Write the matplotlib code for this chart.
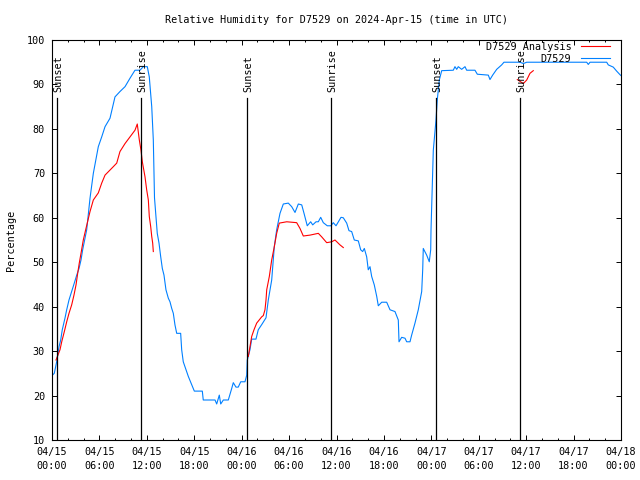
import numpy as np
import matplotlib
matplotlib.use("Agg")
import matplotlib.pyplot as plt
from matplotlib.ticker import MultipleLocator, FixedLocator

# hours since 2024-04-15 00:00 UTC
blue_h = [0.00, 0.29, 0.59, 0.89, 1.10, 1.30, 1.64, 1.86, 2.15, 2.49, 2.82, 3.13, 3.42, 3.67, 3.88,
          4.18, 4.39, 4.81, 5.23, 5.86, 6.29, 6.71, 7.34, 7.97, 8.60, 9.24, 9.87, 10.50, 11.13,
          11.55, 12.06, 12.31, 12.62, 12.82, 12.97, 13.16, 13.32, 13.54, 13.75, 13.96, 14.17,
          14.42, 14.72, 14.93, 15.15, 15.35, 15.56, 15.78, 16.28, 16.41, 16.61, 16.96, 17.25,
          17.68, 18.01, 19.02, 19.14, 20.63, 20.84, 21.17, 21.35, 21.68, 22.31, 22.74, 22.94,
          23.28, 23.57, 23.88, 24.42, 24.64, 24.71, 25.05, 25.27, 25.81, 26.10, 26.55, 27.08,
          27.37, 27.80, 28.13, 28.43, 28.85, 29.27, 29.90, 30.33, 30.75, 31.17, 31.60, 31.89,
          32.30, 32.73, 32.99, 33.41, 33.70, 34.00, 34.33, 34.83, 35.30, 35.59, 35.94, 36.57,
          36.86, 37.29, 37.58, 37.92, 38.25, 38.76, 39.06, 39.31, 39.52, 39.82, 40.02, 40.24,
          40.45, 40.78, 41.09, 41.29, 41.72, 42.35, 42.77, 43.40, 43.82, 43.91, 44.25, 44.67,
          44.88, 45.30, 45.51, 45.93, 46.35, 46.78, 46.91, 46.98, 47.41, 47.74, 47.92, 47.96,
          48.25, 48.59, 48.75, 48.88, 49.01, 49.31, 50.78, 50.99, 51.21, 51.41, 51.84, 52.26,
          52.47, 53.52, 53.82, 55.21, 55.42, 55.76, 56.27, 56.90, 57.19, 59.22, 59.64, 60.07,
          67.66, 67.86, 68.08, 70.19, 70.39, 71.02, 71.45, 71.87, 72.00]
blue_v = [24.5, 25.0, 27.6, 31.0, 32.5, 34.8, 37.4, 39.3, 41.5, 43.4, 45.3, 47.1, 48.6, 50.5, 52.8,
          55.4, 57.3, 64.4, 70.0, 76.0, 78.2, 80.5, 82.4, 87.2, 88.4, 89.5, 91.4, 93.2, 93.2,
          94.0, 94.0, 91.7, 85.0, 77.5, 64.5, 60.3, 56.5, 54.3, 51.3, 48.6, 47.1,
          43.8, 41.9, 41.1, 39.6, 38.5, 35.9, 34.0, 34.0, 30.3, 27.6, 25.8, 24.3,
          22.4, 21.0, 21.0, 19.0, 19.0, 18.1, 20.1, 18.1, 19.0, 19.0, 21.6, 22.9,
          21.9, 21.9, 23.1, 23.1, 24.6, 28.0, 30.3, 32.7, 32.7, 34.8, 36.0, 37.5,
          41.5, 46.0, 53.5, 57.3, 61.0, 63.1, 63.3, 62.5, 61.2, 63.1, 62.9, 61.0,
          58.2, 59.1, 58.4, 59.1, 59.1, 60.1, 58.9, 58.2, 58.2, 58.9, 58.2, 60.1,
          60.0, 58.8, 57.1, 56.9, 55.0, 54.8, 52.8, 52.4, 53.1, 51.2, 48.3, 49.0,
          46.8, 44.9, 42.3, 40.2, 41.0, 41.0, 39.3, 38.9, 37.0, 32.1, 33.1, 32.9,
          32.1, 32.1, 33.6, 36.3, 39.3, 43.4, 48.4, 53.1, 51.6, 50.1, 52.8, 57.3,
          75.2, 82.0, 86.5, 88.7, 91.0, 93.1, 93.2, 94.0, 93.4, 94.0, 93.4, 94.0,
          93.2, 93.2, 92.3, 92.1, 91.1, 92.1, 93.4, 94.4, 95.0, 95.0, 94.7, 95.0,
          95.0, 94.5, 95.0, 95.0, 94.4, 93.9, 93.0, 92.2, 92.0]

red_h = [0.51, 1.01, 1.23, 1.56, 1.86, 2.15, 2.49, 2.78, 3.04, 3.25, 3.45, 3.67, 3.96, 4.26, 4.81,
         5.23, 5.86, 6.29, 6.71, 7.76, 8.19, 8.60, 9.24, 9.87, 10.50, 10.79, 11.05, 11.26, 11.43,
         11.77, 11.98, 12.19, 12.31, 12.49, 12.62, 12.74, 12.82,
         18.0,
         24.84, 25.05, 25.27, 25.56, 25.90, 26.53, 26.74, 26.95, 27.08, 27.17, 27.50, 27.80, 28.13,
         28.43, 28.76, 29.70, 30.96, 31.38, 31.80, 32.65, 33.70, 34.13, 34.76, 35.39, 35.81,
         36.44, 36.86,
         48.0,
         58.88, 59.64, 60.07, 60.48, 60.90]
red_v = [28.0, 30.3, 32.1, 34.4, 36.6, 38.5, 40.4, 42.6, 44.9, 47.5, 49.8, 52.0, 55.0, 57.3, 61.4,
         64.0, 65.6, 67.8, 69.6, 71.5, 72.3, 74.9, 76.7, 78.2, 79.7, 81.1, 77.5, 75.2, 72.6,
         69.2, 66.3, 64.0, 60.3, 58.0, 55.8, 54.3, 52.4,
         np.nan,
         28.8, 31.0, 33.3, 34.8, 36.3, 37.7, 38.0, 39.3, 41.5, 43.8, 46.8, 50.5, 53.5,
         56.5, 58.8, 59.1, 58.9, 57.6, 55.9, 56.1, 56.5, 55.7, 54.4, 54.6, 55.0,
         53.9, 53.3,
         np.nan,
         91.1, 90.2, 91.0, 92.5, 93.1]

event_h = [0.67, 11.26, 24.67, 35.30, 48.59, 59.22]
event_labels = ["Sunset", "Sunrise", "Sunset", "Sunrise", "Sunset", "Sunrise"]

xtick_h = [0, 6, 12, 18, 24, 30, 36, 42, 48, 54, 60, 66, 72]
xtick_labels = ["04/15\n00:00", "04/15\n06:00", "04/15\n12:00", "04/15\n18:00",
                "04/16\n00:00", "04/16\n06:00", "04/16\n12:00", "04/16\n18:00",
                "04/17\n00:00", "04/17\n06:00", "04/17\n12:00", "04/17\n18:00",
                "04/18\n00:00"]
yticks = [10, 20, 30, 40, 50, 60, 70, 80, 90, 100]

MONO = "DejaVu Sans Mono"
FS = 7.3
plt.rcParams["font.family"] = MONO

fig = plt.figure(figsize=(6.4, 4.8), dpi=100)
ax = fig.add_axes([52 / 640, 40 / 480, 569 / 640, 400 / 480])

ax.plot(red_h, red_v, color="#ff0000", lw=0.8, label="D7529 Analysis", zorder=3)
ax.plot(blue_h, blue_v, color="#0080ff", lw=0.8, label="D7529", zorder=2)

for h, lab in zip(event_h, event_labels):
    ax.plot([h, h], [10, 87], color="black", lw=0.9, zorder=4)
    ax.text(h + 0.15, 88.3, lab, rotation=90, ha="center", va="bottom",
            fontsize=FS, family=MONO, zorder=5)

ax.set_xlim(0, 72)
ax.set_ylim(10, 100)
ax.xaxis.set_major_locator(FixedLocator(xtick_h))
ax.set_xticklabels(xtick_labels, fontsize=FS, linespacing=1.5)
ax.xaxis.set_minor_locator(MultipleLocator(2))
ax.set_yticks(yticks)
ax.set_yticklabels([str(v) for v in yticks], fontsize=FS)

ax.tick_params(which="both", direction="in", top=True, right=True, width=0.7, color="black")
ax.tick_params(which="major", length=3.4)
ax.tick_params(which="minor", length=1.7)
ax.tick_params(axis="x", pad=5)
ax.tick_params(axis="y", pad=5)
for s in ax.spines.values():
    s.set_linewidth(0.8)

ax.set_ylabel("Percentage", fontsize=FS, labelpad=8)
ax.set_title("Relative Humidity for D7529 on 2024-Apr-15 (time in UTC)", fontsize=FS, pad=12)

ax.legend(loc="upper right", bbox_to_anchor=(1 - 11 / 569, 1 - 2 / 400), frameon=False,
          markerfirst=False, fontsize=FS, handlelength=2.9, handletextpad=0.9,
          labelspacing=0.2, borderpad=0, borderaxespad=0)

fig.savefig("out.png", dpi=100)
